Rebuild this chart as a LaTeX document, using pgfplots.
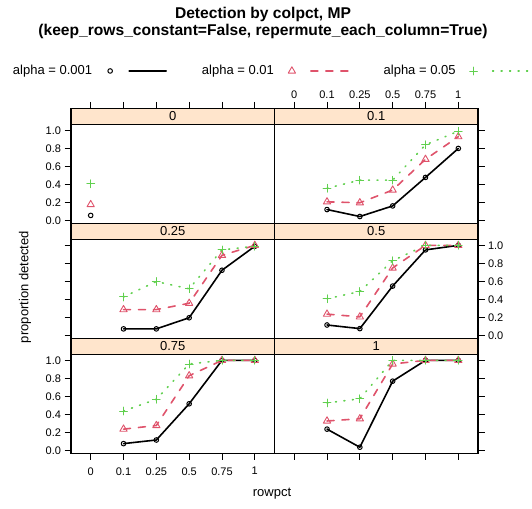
\documentclass[border=0pt]{standalone}
\usepackage{pgfplots}
\pgfplotsset{compat=1.18}
\usepackage{fontspec}
\setmainfont{Liberation Sans}
\definecolor{rred}{HTML}{DF536B}
\definecolor{rgreen}{HTML}{61D04F}
\definecolor{stripcol}{HTML}{FFE5CC}

\tikzset{
 sA/.style={black, solid, line width=1.6pt, line cap=round, line join=round, mark=o, mark size=2.3pt, mark options={solid, line width=1pt}},
 sB/.style={rred, line width=1.6pt, line cap=round, line join=round, dash pattern=on 7pt off 8pt, mark=triangle, mark size=4.2pt, mark options={solid, line width=0.9pt}},
 sC/.style={rgreen, line width=1.6pt, line cap=round, line join=round, dash pattern=on 1pt off 7.5pt, mark=+, mark size=3.9pt, mark options={solid, line width=0.9pt}},
}
\pgfplotsset{
 panel/.style={scale only axis, width=203.5pt, height=115pt, anchor=south west,
   xmin=-0.6, xmax=5.6, ymin=-0.027, ymax=1.2438,
   xtick={0,1,2,3,4,5}, xticklabels={0,0.1,0.25,0.5,0.75,1},
   ytick={0,0.2,0.4,0.6,0.8,1}, yticklabels={0.0,0.2,0.4,0.6,0.8,1.0},
   tick align=outside, major tick length=6.5pt,
   tick style={black, line width=0.8pt},
   axis line style={line width=1.1pt},
   ticklabel style={font=\fontsize{11}{11}\selectfont},
   axis on top, clip=false},
 noxlab/.style={xticklabels={,,,,,}},
 noylab/.style={yticklabels={,,,,,}},
}
\newcommand{\strip}[1]{%
 \fill[stripcol] (rel axis cs:0,0.86087) rectangle (rel axis cs:1,1);
 \draw[line width=1.1pt] (rel axis cs:0,0.86087) -- (rel axis cs:1,0.86087);
 \node[font=\fontsize{13}{13}\selectfont] at (rel axis cs:0.5,0.93043) {#1};}

\begin{document}
\begin{tikzpicture}[x=1pt,y=1pt]
% legend holder
\begin{axis}[at={(0pt,0pt)}, anchor=south west, scale only axis, width=532pt, height=508pt,
  hide axis, xmin=0, xmax=1, ymin=0, ymax=1,
  legend columns=3, legend plot pos=right,
  legend image code/.code={
    \path[draw=none, fill=none] (0pt,-4pt) rectangle (74pt,4pt);
    \draw[#1] plot coordinates {(18pt,0pt)};
    \draw[#1,mark=none] (37pt,0pt) -- (74pt,0pt);
  },
  legend style={draw=none, fill=none, at={(0.024436,0.86024)}, anchor=west,
    inner sep=0pt, outer sep=0pt, column sep=0pt,
    font=\fontsize{13}{13}\selectfont, nodes={inner sep=0pt},
    /tikz/every even column/.append style={column sep=35pt}}]
\addlegendimage{sA}\addlegendentry{alpha = 0.001}
\addlegendimage{sB}\addlegendentry{alpha = 0.01}
\addlegendimage{sC}\addlegendentry{alpha = 0.05}
\end{axis}

% Row 1 left: colpct = 0
\begin{axis}[panel, at={(71pt,284.7pt)}, xtick pos=right, xticklabel pos=right, noxlab, ytick pos=left, yticklabel pos=left]
\strip{0}
\addplot[sA] coordinates {(0,0.06)};
\addplot[sB] coordinates {(0,0.18)};
\addplot[sC] coordinates {(0,0.41)};
\end{axis}

% Row 1 right: colpct = 0.1
\begin{axis}[panel, at={(274.5pt,284.7pt)}, xtick pos=right, xticklabel pos=right, ytick pos=right, noylab]
\strip{0.1}
\addplot[sA] coordinates {(1,0.125) (2,0.048) (3,0.165) (4,0.48) (5,0.80)};
\addplot[sB] coordinates {(1,0.21) (2,0.20) (3,0.34) (4,0.68) (5,0.93)};
\addplot[sC] coordinates {(1,0.36) (2,0.45) (3,0.45) (4,0.84) (5,0.99)};
\end{axis}

% Row 2 left: colpct = 0.25
\begin{axis}[panel, at={(71pt,169.7pt)}, xmajorticks=false, ytick pos=left, noylab]
\strip{0.25}
\addplot[sA] coordinates {(1,0.077) (2,0.077) (3,0.20) (4,0.725) (5,0.99)};
\addplot[sB] coordinates {(1,0.29) (2,0.29) (3,0.36) (4,0.89) (5,1.0)};
\addplot[sC] coordinates {(1,0.43) (2,0.60) (3,0.52) (4,0.95) (5,0.99)};
\end{axis}

% Row 2 right: colpct = 0.5
\begin{axis}[panel, at={(274.5pt,169.7pt)}, xmajorticks=false, ytick pos=right, yticklabel pos=right]
\strip{0.5}
\addplot[sA] coordinates {(1,0.12) (2,0.08) (3,0.55) (4,0.95) (5,1.0)};
\addplot[sB] coordinates {(1,0.24) (2,0.21) (3,0.75) (4,1.0) (5,1.0)};
\addplot[sC] coordinates {(1,0.41) (2,0.49) (3,0.83) (4,1.0) (5,1.0)};
\end{axis}

% Row 3 left: colpct = 0.75
\begin{axis}[panel, at={(71pt,54.7pt)}, xtick pos=left, xticklabel pos=left, xticklabel shift=4pt, ytick pos=left, yticklabel pos=left]
\strip{0.75}
\addplot[sA] coordinates {(1,0.08) (2,0.12) (3,0.52) (4,1.0) (5,1.0)};
\addplot[sB] coordinates {(1,0.24) (2,0.28) (3,0.83) (4,1.0) (5,1.0)};
\addplot[sC] coordinates {(1,0.44) (2,0.57) (3,0.96) (4,1.0) (5,1.0)};
\end{axis}

% Row 3 right: colpct = 1
\begin{axis}[panel, at={(274.5pt,54.7pt)}, xtick pos=left, noxlab, ytick pos=right, noylab]
\strip{1}
\addplot[sA] coordinates {(1,0.24) (2,0.04) (3,0.77) (4,1.0) (5,1.0)};
\addplot[sB] coordinates {(1,0.33) (2,0.355) (3,0.96) (4,1.0) (5,1.0)};
\addplot[sC] coordinates {(1,0.53) (2,0.575) (3,1.0) (4,1.0) (5,1.0)};
\end{axis}

% titles and labels
\node[anchor=base, font=\bfseries\fontsize{15.6}{15.6}\selectfont] at (263,489.7) {Detection by colpct, MP};
\node[anchor=base, font=\bfseries\fontsize{15.6}{15.6}\selectfont] at (263,472) {(keep\_rows\_constant=False, repermute\_each\_column=True)};
\node[rotate=90, font=\fontsize{13}{13}\selectfont] at (25,221) {proportion detected};
\node[anchor=base, font=\fontsize{13}{13}\selectfont] at (272,11.3) {rowpct};

\pgfresetboundingbox
\path (0,0) rectangle (532,508);
\end{tikzpicture}
\end{document}
